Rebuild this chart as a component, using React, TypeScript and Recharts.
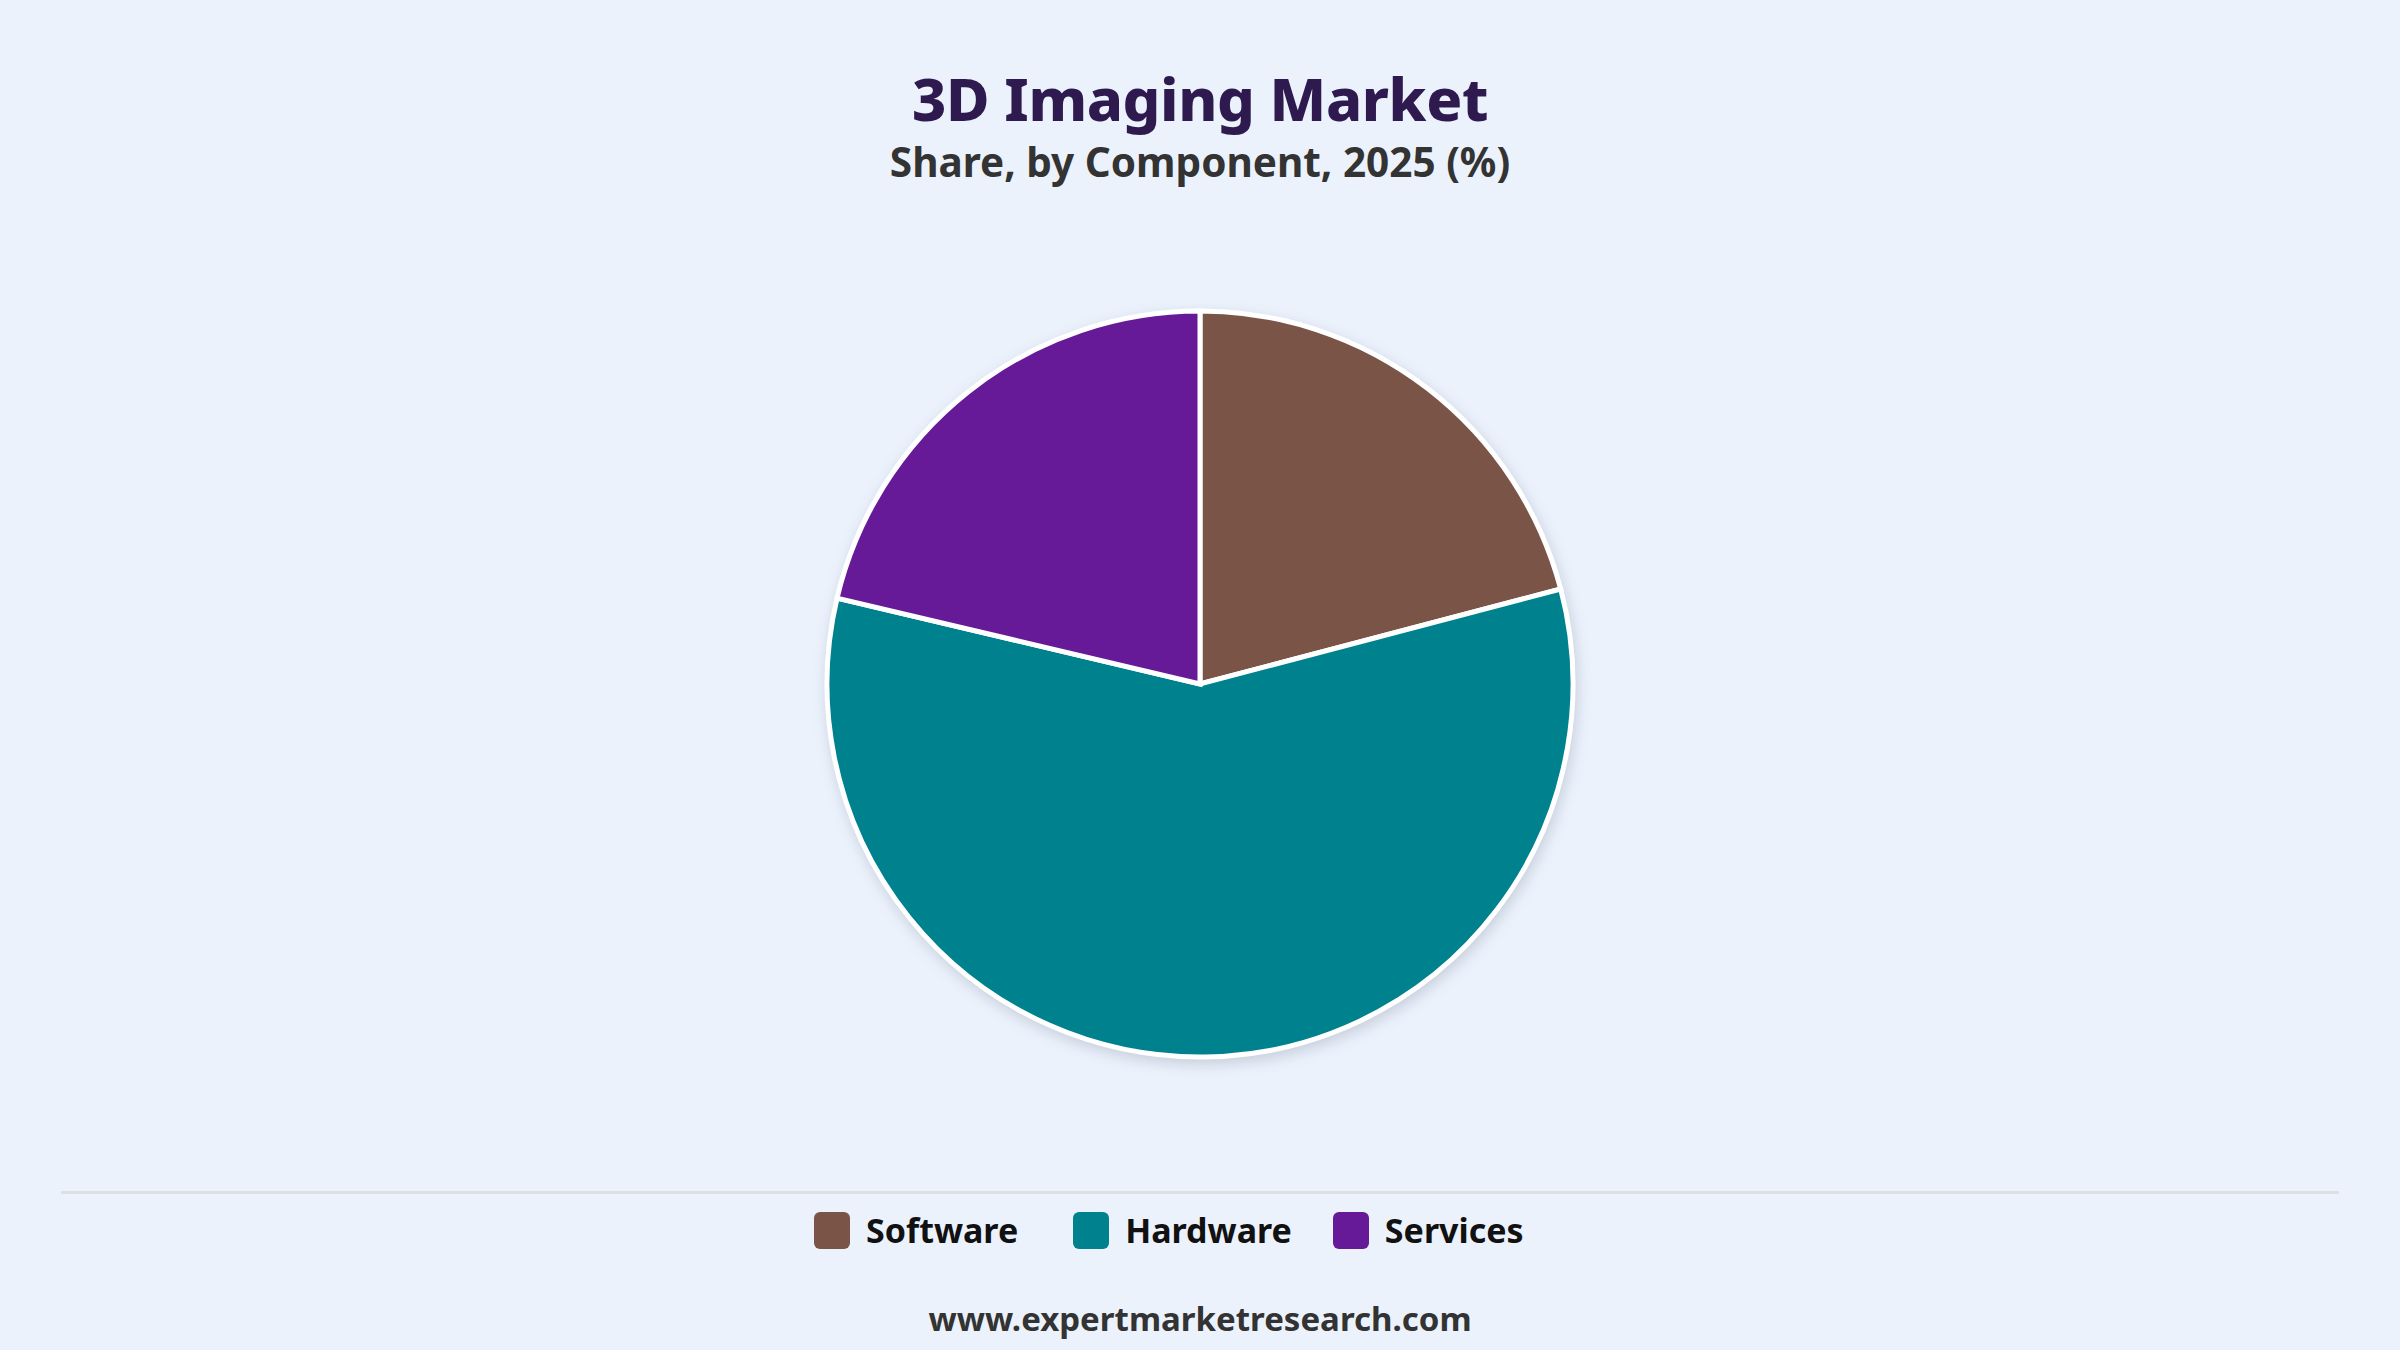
import React from 'react';
import { PieChart, Pie, Cell, Legend } from 'recharts';

const components = ['Software', 'Hardware', 'Services'];
const shares = [20.9, 57.8, 21.3];
const colors = ['#7A5547', '#00828E', '#671A98'];

const data = components.map((name, i) => ({ name, value: shares[i] }));

const font = '"Noto Sans", "Open Sans", sans-serif';

// spacing after each legend entry, as in the reference
const legendGaps = [55, 41, 0];

function LegendRow({ payload }: any) {
  const items = [...(payload || [])].sort(
    (a: any, b: any) => components.indexOf(a.value) - components.indexOf(b.value)
  );
  return (
    <div style={{ display: 'flex', alignItems: 'center', paddingLeft: 814 }}>
      {items.map((p: any, i: number) => (
        <div key={p.value} style={{ display: 'flex', alignItems: 'center', marginRight: legendGaps[i] }}>
          <span
            style={{
              width: 36,
              height: 37,
              borderRadius: 6,
              background: p.color,
              display: 'inline-block',
              marginRight: 16,
            }}
          />
          <span style={{ fontFamily: font, fontWeight: 700, fontSize: 34, color: '#111' }}>{p.value}</span>
        </div>
      ))}
    </div>
  );
}

export default function App() {
  return (
    <div style={{ position: 'relative', width: 2400, height: 1350, background: '#EBF2FC', overflow: 'hidden' }}>
      <style>{`body{margin:0} .recharts-pie{filter:drop-shadow(2px 5px 7px rgba(40,50,80,0.18));}`}</style>
      <div
        style={{
          position: 'absolute',
          top: 68,
          width: '100%',
          textAlign: 'center',
          fontFamily: font,
          fontWeight: 800,
          fontSize: 59.5,
          color: '#2E1A4F',
          lineHeight: 1,
          letterSpacing: -0.4,
        }}
      >
        3D Imaging Market
      </div>
      <div
        style={{
          position: 'absolute',
          top: 142,
          width: '100%',
          textAlign: 'center',
          fontFamily: font,
          fontWeight: 700,
          fontSize: 40.5,
          color: '#333',
          lineHeight: 1,
        }}
      >
        Share, by Component, 2025 (%)
      </div>
      <div style={{ position: 'absolute', top: 1191, left: 61, width: 2278, height: 3, background: '#DCDFE3' }} />
      <PieChart width={2400} height={1350} style={{ position: 'absolute', top: 0, left: 0 }}>
        <Pie
          data={data}
          dataKey="value"
          nameKey="name"
          cx={1195}
          cy={679}
          outerRadius={373}
          startAngle={90}
          endAngle={-270}
          stroke="#fff"
          strokeWidth={5}
          isAnimationActive={false}
        >
          {data.map((d, i) => (
            <Cell key={d.name} fill={colors[i]} />
          ))}
        </Pie>
        <Legend
          itemSorter={null as any}
          content={<LegendRow />}
          wrapperStyle={{ position: 'absolute', top: 1207, left: 0, width: 2400 }}
        />
      </PieChart>
      <div
        style={{
          position: 'absolute',
          top: 1302,
          width: '100%',
          textAlign: 'center',
          fontFamily: font,
          fontWeight: 700,
          fontSize: 33,
          color: '#333',
          lineHeight: 1,
        }}
      >
        www.expertmarketresearch.com
      </div>
    </div>
  );
}
